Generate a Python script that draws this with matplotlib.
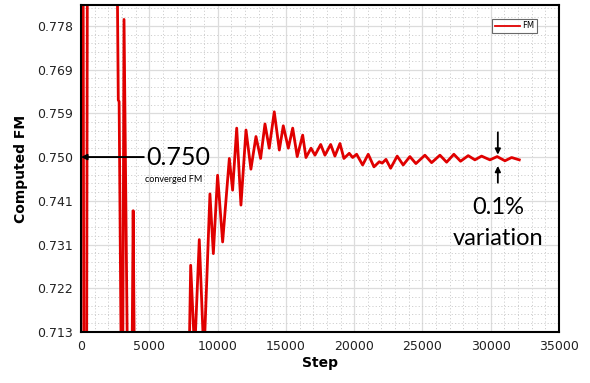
import matplotlib
matplotlib.use("Agg")
import matplotlib.pyplot as plt
from matplotlib.ticker import MultipleLocator, AutoMinorLocator, FixedLocator

# values (points outside the y range are clipped away)
step = [0, 150, 210, 410, 470, 2620, 2730, 2790, 2960, 3050, 3150, 3420,
        3720, 3820, 3920, 7880,
        8030, 8320, 8660, 9000, 9440, 9690, 10000, 10370, 10860, 11100,
        11400, 11710, 12080, 12440, 12810, 13150, 13470, 13780, 14150,
        14520, 14810, 15180, 15500, 15830, 16230, 16470, 16840, 17130,
        17550, 17860, 18280, 18590, 18960, 19250, 19640, 19890, 20180,
        20620, 21030, 21450, 21840, 22050, 22330, 22670, 23150, 23590,
        24080, 24520, 25180, 25670, 26280, 26770, 27300, 27790, 28350,
        28840, 29330, 29940, 30470, 31040, 31530, 32090]
fm = [0.80, 0.80, 0.70, 0.70, 0.80, 0.80, 0.7622, 0.7619, 0.70, 0.70, 0.7795, 0.70,
      0.70, 0.7385, 0.70, 0.70,
      0.7268, 0.708, 0.7323, 0.707, 0.7421, 0.7293, 0.7461, 0.7318, 0.7497, 0.7429,
      0.7562, 0.7397, 0.7558, 0.7474, 0.7544, 0.7497, 0.7571, 0.7519, 0.7597,
      0.7515, 0.7567, 0.7519, 0.7562, 0.7501, 0.7547, 0.7499, 0.7519, 0.7504,
      0.7527, 0.7504, 0.7527, 0.7502, 0.7529, 0.7497, 0.7508, 0.7499, 0.7506,
      0.7483, 0.7506, 0.7479, 0.7490, 0.7487, 0.7495, 0.7476, 0.7502, 0.7483,
      0.7501, 0.7486, 0.7504, 0.7488, 0.7504, 0.7489, 0.7506, 0.7491, 0.7503,
      0.7494, 0.7502, 0.7494, 0.7501, 0.7492, 0.7499, 0.7494]

yticks = [0.7125, 0.721875, 0.73125, 0.740625, 0.75, 0.759375, 0.76875, 0.778125]
ylabels = ["0.713", "0.722", "0.731", "0.741", "0.750", "0.759", "0.769", "0.778"]

fig = plt.figure(figsize=(5.9, 3.83), dpi=100)
ax = fig.add_axes([0.1373, 0.1332, 0.8102, 0.8538])

ax.plot(step, fm, color="#e00000", lw=2.0, label="FM", solid_joinstyle="round")

ax.set_xlim(0, 35000)
ax.set_ylim(0.7125, 0.7826)
ax.xaxis.set_major_locator(MultipleLocator(5000))
ax.xaxis.set_minor_locator(AutoMinorLocator(5))
ax.yaxis.set_major_locator(FixedLocator(yticks))
ax.set_yticklabels(ylabels)
ax.yaxis.set_minor_locator(AutoMinorLocator(5))
ax.tick_params(which="both", length=0, labelsize=9, colors="#222222", pad=6)

ax.grid(which="major", color="#dcdcdc", lw=0.9)
ax.grid(which="minor", color="#cfcfcf", lw=0.7, ls=(0, (1.2, 2.2)))
for s in ax.spines.values():
    s.set_linewidth(1.5)
    s.set_color("black")

ax.set_xlabel("Step", fontsize=10, fontweight="bold", labelpad=2)
ax.set_ylabel("Computed FM", fontsize=10, fontweight="bold", labelpad=6)

leg = ax.legend(loc="upper right", bbox_to_anchor=(0.962, 0.97), fontsize=6,
                frameon=True, fancybox=False, handlelength=3, borderpad=0.3,
                handletextpad=0.3)
leg.get_frame().set_edgecolor("#444444")
leg.get_frame().set_linewidth(0.8)
leg.get_lines()[0].set_linewidth(1.3)

# annotations
ax.annotate("", xy=(0, 0.750), xytext=(4600, 0.750),
            arrowprops=dict(arrowstyle="-|>", color="black", lw=1.4,
                            mutation_scale=8, shrinkA=0, shrinkB=0))
ax.text(4800, 0.750, "0.750", fontsize=18, family="Lato", va="center", ha="left")
ax.text(4700, 0.7452, "converged FM", fontsize=6.5, family="Lato", va="center", ha="left")

ax.annotate("", xy=(30520, 0.7505), xytext=(30520, 0.7553),
            arrowprops=dict(arrowstyle="-|>", color="black", lw=1.3,
                            mutation_scale=8, shrinkA=0, shrinkB=0))
ax.annotate("", xy=(30520, 0.7481), xytext=(30520, 0.7445),
            arrowprops=dict(arrowstyle="-|>", color="black", lw=1.3,
                            mutation_scale=8, shrinkA=0, shrinkB=0))
ax.text(30520, 0.7392, "0.1%", fontsize=17, family="Lato", ha="center", va="center")
ax.text(30520, 0.7325, "variation", fontsize=17, family="Lato", ha="center", va="center")

fig.savefig("out.png", dpi=100)
